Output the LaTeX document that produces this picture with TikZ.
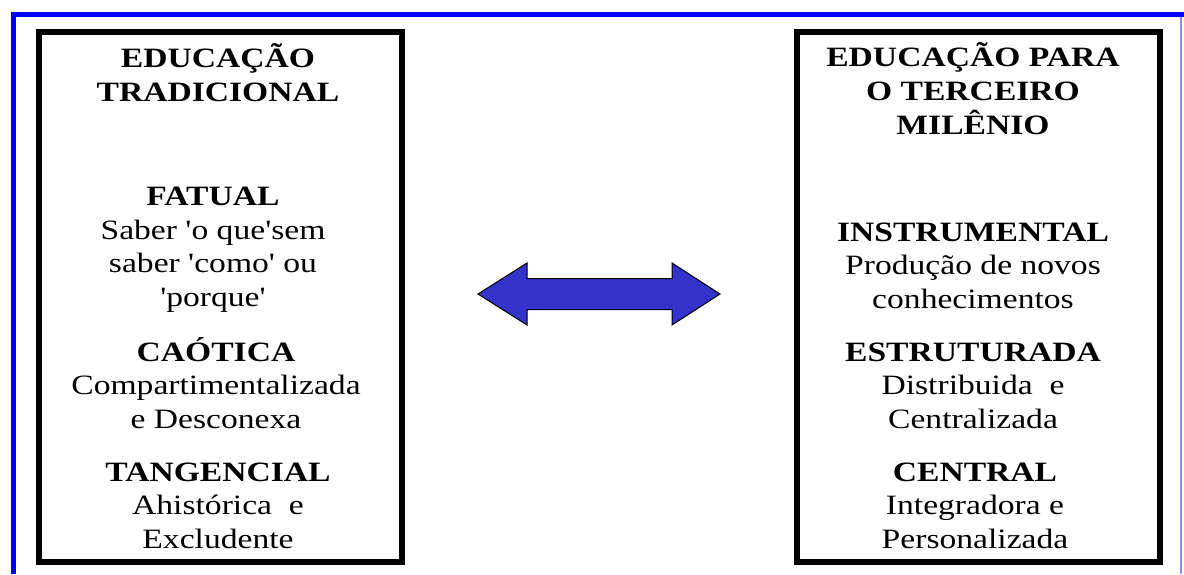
\documentclass[tikz,border=0pt]{standalone}
\usepackage{fontspec}
\setmainfont{Liberation Serif}[Ligatures=TeXOff]
\usepackage{tikz}
\usetikzlibrary{positioning, calc}
\definecolor{frameblue}{RGB}{0,0,250}
\definecolor{arrowblue}{RGB}{51,51,204}
\definecolor{edgeblue}{RGB}{140,140,240}
\tikzset{
    column/.style={rectangle, draw=black, line width=6pt, minimum width=363pt, minimum height=530pt},
    heading/.style={align=center, anchor=base, xscale=1.2, font=\fontsize{28}{34}\selectfont\bfseries},
    item/.style={align=center, anchor=base, xscale=1.2, font=\fontsize{28}{33.5}\selectfont}
}

\begin{document}
\begin{tikzpicture}[x=1pt, y=-1pt]
    \useasboundingbox (0,0) rectangle (1184,574);

    % Outer frame
    \draw[frameblue, line width=5pt] (13,574) -- (13,14.5) -- (1184,14.5);
    \draw[edgeblue, line width=1.2pt] (1181,17) -- (1181,574);

    % The two columns
    \node[column] (trad) at (220,296.5) {};
    \node[column] (novo) at (978,296.8) {};

    % Left column (placed at the baseline of the last line)
    \node[heading] (tradtitle) at (218,101) {EDUCAÇÃO\\TRADICIONAL};
    \node[item] (fatual) at (213,306) {\textbf{FATUAL}\\Saber 'o que'sem\\saber 'como' ou\\'porque'};
    \node[item] (caotica) at (216,428) {\textbf{CAÓTICA}\\Compartimentalizada\\e Desconexa};
    \node[item] (tangencial) at (218,548) {\textbf{TANGENCIAL}\\Ahistórica~~e\\Excludente};

    % Right column
    \node[heading] (novotitle) at (973,134) {EDUCAÇÃO PARA\\O TERCEIRO\\MILÊNIO};
    \node[item] (instrumental) at (973,308) {\textbf{INSTRUMENTAL}\\Produção de novos\\conhecimentos};
    \node[item] (estruturada) at (973,428) {\textbf{ESTRUTURADA}\\Distribuida~~e\\Centralizada};
    \node[item] (central) at (975,548) {\textbf{CENTRAL}\\Integradora e\\Personalizada};

    % Double arrow between the columns
    \coordinate (mid) at (599,294);
    \draw[fill=arrowblue, line width=1pt]
        ($(mid)+(-121,0)$) -- ($(mid)+(-72,-31)$) -- ($(mid)+(-72,-15.5)$) -- ($(mid)+(73,-15.5)$)
        -- ($(mid)+(73,-31)$) -- ($(mid)+(121,0)$) -- ($(mid)+(73,31)$) -- ($(mid)+(73,15.5)$)
        -- ($(mid)+(-72,15.5)$) -- ($(mid)+(-72,31)$) -- cycle;
\end{tikzpicture}
\end{document}
